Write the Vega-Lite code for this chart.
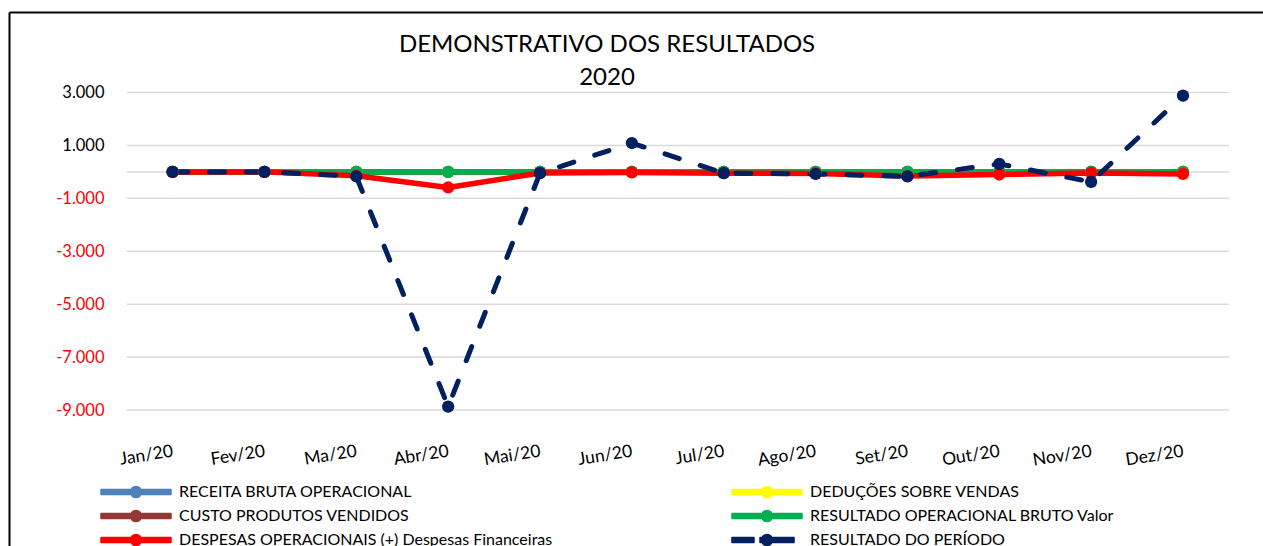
{
  "$schema": "https://vega.github.io/schema/vega-lite/v6.json",
  "width": 1254,
  "height": 534,
  "autosize": {"type": "none"},
  "padding": {"left": 9, "top": 12, "right": 0, "bottom": 0},
  "background": "white",
  "config": {"view": {"stroke": null}, "font": "Lato"},
  "title": {
    "text": ["DEMONSTRATIVO DOS RESULTADOS", "2020"],
    "anchor": "middle",
    "frame": "group",
    "font": "Lato",
    "fontSize": 24,
    "fontWeight": "normal",
    "color": "#000000",
    "lineHeight": 33,
    "baseline": "alphabetic",
    "offset": 0,
    "dx": -29,
    "dy": 97
  },
  "datasets": {
    "grid": [
      {"v": 3000}, {"v": 1000}, {"v": 0}, {"v": -1000}, {"v": -3000}, {"v": -5000}, {"v": -7000}, {"v": -9000}
    ],
    "series": [
      {"serie": "RECEITA BRUTA OPERACIONAL", "i": 1, "valor": 0},
      {"serie": "RECEITA BRUTA OPERACIONAL", "i": 2, "valor": 0},
      {"serie": "RECEITA BRUTA OPERACIONAL", "i": 3, "valor": 0},
      {"serie": "RECEITA BRUTA OPERACIONAL", "i": 4, "valor": 0},
      {"serie": "RECEITA BRUTA OPERACIONAL", "i": 5, "valor": 0},
      {"serie": "RECEITA BRUTA OPERACIONAL", "i": 6, "valor": 0},
      {"serie": "RECEITA BRUTA OPERACIONAL", "i": 7, "valor": 0},
      {"serie": "RECEITA BRUTA OPERACIONAL", "i": 8, "valor": 0},
      {"serie": "RECEITA BRUTA OPERACIONAL", "i": 9, "valor": 0},
      {"serie": "RECEITA BRUTA OPERACIONAL", "i": 10, "valor": 0},
      {"serie": "RECEITA BRUTA OPERACIONAL", "i": 11, "valor": 0},
      {"serie": "RECEITA BRUTA OPERACIONAL", "i": 12, "valor": 0},
      {"serie": "DEDUÇÕES SOBRE VENDAS", "i": 1, "valor": 0},
      {"serie": "DEDUÇÕES SOBRE VENDAS", "i": 2, "valor": 0},
      {"serie": "DEDUÇÕES SOBRE VENDAS", "i": 3, "valor": 0},
      {"serie": "DEDUÇÕES SOBRE VENDAS", "i": 4, "valor": 0},
      {"serie": "DEDUÇÕES SOBRE VENDAS", "i": 5, "valor": 0},
      {"serie": "DEDUÇÕES SOBRE VENDAS", "i": 6, "valor": 0},
      {"serie": "DEDUÇÕES SOBRE VENDAS", "i": 7, "valor": 0},
      {"serie": "DEDUÇÕES SOBRE VENDAS", "i": 8, "valor": 0},
      {"serie": "DEDUÇÕES SOBRE VENDAS", "i": 9, "valor": 0},
      {"serie": "DEDUÇÕES SOBRE VENDAS", "i": 10, "valor": 0},
      {"serie": "DEDUÇÕES SOBRE VENDAS", "i": 11, "valor": 0},
      {"serie": "DEDUÇÕES SOBRE VENDAS", "i": 12, "valor": 0},
      {"serie": "CUSTO PRODUTOS VENDIDOS", "i": 1, "valor": 0},
      {"serie": "CUSTO PRODUTOS VENDIDOS", "i": 2, "valor": 0},
      {"serie": "CUSTO PRODUTOS VENDIDOS", "i": 3, "valor": 0},
      {"serie": "CUSTO PRODUTOS VENDIDOS", "i": 4, "valor": 0},
      {"serie": "CUSTO PRODUTOS VENDIDOS", "i": 5, "valor": 0},
      {"serie": "CUSTO PRODUTOS VENDIDOS", "i": 6, "valor": 0},
      {"serie": "CUSTO PRODUTOS VENDIDOS", "i": 7, "valor": 0},
      {"serie": "CUSTO PRODUTOS VENDIDOS", "i": 8, "valor": 0},
      {"serie": "CUSTO PRODUTOS VENDIDOS", "i": 9, "valor": 0},
      {"serie": "CUSTO PRODUTOS VENDIDOS", "i": 10, "valor": 0},
      {"serie": "CUSTO PRODUTOS VENDIDOS", "i": 11, "valor": 0},
      {"serie": "CUSTO PRODUTOS VENDIDOS", "i": 12, "valor": 0},
      {"serie": "RESULTADO OPERACIONAL BRUTO Valor", "i": 1, "valor": 0},
      {"serie": "RESULTADO OPERACIONAL BRUTO Valor", "i": 2, "valor": 0},
      {"serie": "RESULTADO OPERACIONAL BRUTO Valor", "i": 3, "valor": 0},
      {"serie": "RESULTADO OPERACIONAL BRUTO Valor", "i": 4, "valor": 0},
      {"serie": "RESULTADO OPERACIONAL BRUTO Valor", "i": 5, "valor": 0},
      {"serie": "RESULTADO OPERACIONAL BRUTO Valor", "i": 6, "valor": 0},
      {"serie": "RESULTADO OPERACIONAL BRUTO Valor", "i": 7, "valor": 0},
      {"serie": "RESULTADO OPERACIONAL BRUTO Valor", "i": 8, "valor": 0},
      {"serie": "RESULTADO OPERACIONAL BRUTO Valor", "i": 9, "valor": 0},
      {"serie": "RESULTADO OPERACIONAL BRUTO Valor", "i": 10, "valor": 0},
      {"serie": "RESULTADO OPERACIONAL BRUTO Valor", "i": 11, "valor": 0},
      {"serie": "RESULTADO OPERACIONAL BRUTO Valor", "i": 12, "valor": 0},
      {"serie": "DESPESAS OPERACIONAIS (+) Despesas Financeiras", "i": 1, "valor": 0},
      {"serie": "DESPESAS OPERACIONAIS (+) Despesas Financeiras", "i": 2, "valor": 0},
      {"serie": "DESPESAS OPERACIONAIS (+) Despesas Financeiras", "i": 3, "valor": -150},
      {"serie": "DESPESAS OPERACIONAIS (+) Despesas Financeiras", "i": 4, "valor": -590},
      {"serie": "DESPESAS OPERACIONAIS (+) Despesas Financeiras", "i": 5, "valor": -40},
      {"serie": "DESPESAS OPERACIONAIS (+) Despesas Financeiras", "i": 6, "valor": -20},
      {"serie": "DESPESAS OPERACIONAIS (+) Despesas Financeiras", "i": 7, "valor": -50},
      {"serie": "DESPESAS OPERACIONAIS (+) Despesas Financeiras", "i": 8, "valor": -60},
      {"serie": "DESPESAS OPERACIONAIS (+) Despesas Financeiras", "i": 9, "valor": -160},
      {"serie": "DESPESAS OPERACIONAIS (+) Despesas Financeiras", "i": 10, "valor": -100},
      {"serie": "DESPESAS OPERACIONAIS (+) Despesas Financeiras", "i": 11, "valor": -40},
      {"serie": "DESPESAS OPERACIONAIS (+) Despesas Financeiras", "i": 12, "valor": -80},
      {"serie": "RESULTADO DO PERÍODO", "i": 1, "valor": 0},
      {"serie": "RESULTADO DO PERÍODO", "i": 2, "valor": 0},
      {"serie": "RESULTADO DO PERÍODO", "i": 3, "valor": -170},
      {"serie": "RESULTADO DO PERÍODO", "i": 4, "valor": -8870},
      {"serie": "RESULTADO DO PERÍODO", "i": 5, "valor": -50},
      {"serie": "RESULTADO DO PERÍODO", "i": 6, "valor": 1090},
      {"serie": "RESULTADO DO PERÍODO", "i": 7, "valor": -50},
      {"serie": "RESULTADO DO PERÍODO", "i": 8, "valor": -80},
      {"serie": "RESULTADO DO PERÍODO", "i": 9, "valor": -170},
      {"serie": "RESULTADO DO PERÍODO", "i": 10, "valor": 300},
      {"serie": "RESULTADO DO PERÍODO", "i": 11, "valor": -380},
      {"serie": "RESULTADO DO PERÍODO", "i": 12, "valor": 2880}
    ]
  },
  "layer": [
    {
      "data": {"name": "grid"},
      "mark": {"type": "rule", "color": "#d9d9d9", "strokeWidth": 1.5},
      "encoding": {
        "y": {
          "field": "v",
          "type": "quantitative",
          "scale": {"domain": [-14140, 6042.5], "nice": false, "zero": false},
          "axis": {
            "orient": "left",
            "offset": -95,
            "values": [3000, 1000, -1000, -3000, -5000, -7000, -9000],
            "domain": false,
            "ticks": false,
            "tickSize": 0,
            "grid": false,
            "title": null,
            "labelPadding": 0,
            "labelFont": "Lato",
            "labelFontSize": 16.5,
            "labelBaseline": "middle",
            "labelColor": {"condition": {"test": "datum.value < 0", "value": "#ff0000"}, "value": "#000000"},
            "labelExpr": "(datum.value < 0 ? '-' : '') + replace(format(abs(datum.value), ',.0f'), ',', '.')"
          }
        },
        "x": {
          "datum": 0.5,
          "type": "quantitative",
          "scale": {"domain": [-0.781, 12.871], "nice": false, "zero": false},
          "axis": {
            "orient": "bottom",
            "offset": -95,
            "values": [1, 2, 3, 4, 5, 6, 7, 8, 9, 10, 11, 12],
            "domain": false,
            "ticks": false,
            "tickSize": 0,
            "grid": false,
            "title": null,
            "labelPadding": 0,
            "labelFont": "Lato",
            "labelFontSize": 17.5,
            "labelColor": "#000000",
            "labelAngle": -9,
            "labelAlign": "right",
            "labelBaseline": "middle",
            "labelOverlap": false,
            "labelFlush": false,
            "labelBound": false,
            "labelExpr": "['Jan/20','Fev/20','Ma/20','Abr/20','Mai/20','Jun/20','Jul/20','Ago/20','Set/20','Out/20','Nov/20','Dez/20'][datum.value - 1]"
          }
        },
        "x2": {"datum": 12.5}
      }
    },
    {
      "data": {"name": "series"},
      "transform": [{"filter": "datum.serie != 'RESULTADO DO PERÍODO'"}],
      "mark": {"type": "line", "strokeWidth": 5.5, "strokeCap": "round", "strokeJoin": "round"},
      "encoding": {
        "x": {
          "field": "i",
          "type": "quantitative",
          "scale": {"domain": [-0.781, 12.871], "nice": false, "zero": false},
          "axis": {"orient": "top", "domain": true, "domainColor": "#000000", "domainWidth": 2, "ticks": false, "labels": false, "grid": false, "title": null}
        },
        "y": {
          "field": "valor",
          "type": "quantitative",
          "scale": {"domain": [-14140, 6042.5], "nice": false, "zero": false},
          "axis": {"orient": "left", "domain": true, "domainColor": "#000000", "domainWidth": 2, "ticks": false, "labels": false, "grid": false, "title": null}
        },
        "color": {
          "field": "serie",
          "type": "nominal",
          "scale": {
            "domain": ["RECEITA BRUTA OPERACIONAL", "DEDUÇÕES SOBRE VENDAS", "CUSTO PRODUTOS VENDIDOS", "RESULTADO OPERACIONAL BRUTO Valor", "DESPESAS OPERACIONAIS (+) Despesas Financeiras", "RESULTADO DO PERÍODO"],
            "range": ["#4f81bd", "#ffff00", "#953735", "#00b050", "#ff0000", "#002060"]
          },
          "legend": {
            "orient": "none",
            "legendX": 91,
            "legendY": 472,
            "columns": 2,
            "direction": "horizontal",
            "gridAlign": "all",
            "columnPadding": 178,
            "rowPadding": 8,
            "padding": 0,
            "title": null,
            "labelFont": "Lato",
            "labelFontSize": 16,
            "labelColor": "#000000",
            "labelLimit": 700,
            "labelOffset": 63,
            "symbolOffset": 0,
            "symbolType": "M-1,-0.357 L9,-0.357 L9,0.357 L-1,0.357 Z M4.79,0 A0.79,0.79 0 1,1 3.21,0 A0.79,0.79 0 1,1 4.79,0 Z",
            "symbolSize": 196,
            "encode": {
              "symbols": {
                "update": {
                  "shape": {"signal": "datum.value == 'RESULTADO DO PERÍODO' ? 'M-1,-0.357 L2.14,-0.357 L2.14,0.357 L-1,0.357 Z M3,-0.357 L7.86,-0.357 L7.86,0.357 L3,0.357 Z M4.79,0 A0.79,0.79 0 1,1 3.21,0 A0.79,0.79 0 1,1 4.79,0 Z' : 'M-1,-0.357 L9,-0.357 L9,0.357 L-1,0.357 Z M4.79,0 A0.79,0.79 0 1,1 3.21,0 A0.79,0.79 0 1,1 4.79,0 Z'"},
                  "fill": {"scale": "color", "field": "value"},
                  "stroke": {"scale": "color", "field": "value"},
                  "strokeWidth": {"value": 1.5},
                  "strokeJoin": {"value": "round"},
                  "opacity": {"value": 1}
                }
              }
            }
          }
        }
      }
    },
    {
      "data": {"name": "series"},
      "transform": [{"filter": "datum.serie == 'RESULTADO DO PERÍODO'"}],
      "mark": {"type": "line", "strokeWidth": 5, "strokeCap": "round", "strokeJoin": "round", "strokeDash": [15, 22]},
      "encoding": {
        "x": {"field": "i", "type": "quantitative", "axis": null},
        "y": {"field": "valor", "type": "quantitative", "axis": null},
        "color": {"field": "serie", "type": "nominal", "legend": null}
      }
    },
    {
      "data": {"name": "series"},
      "mark": {"type": "point", "filled": true, "size": 150, "opacity": 1},
      "encoding": {
        "x": {"field": "i", "type": "quantitative", "axis": null},
        "y": {"field": "valor", "type": "quantitative", "axis": null},
        "color": {"field": "serie", "type": "nominal", "legend": null}
      }
    }
  ],
  "resolve": {"axis": {"x": "independent", "y": "independent"}}
}
